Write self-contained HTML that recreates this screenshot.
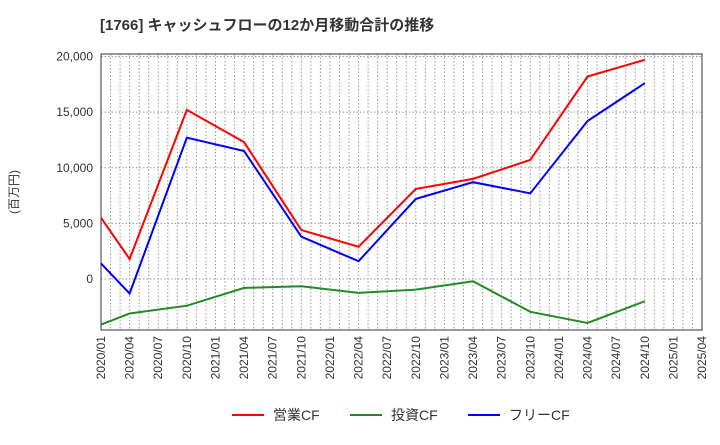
<!DOCTYPE html>
<html><head><meta charset="utf-8"><style>
body{margin:0;background:#fff;font-family:"Liberation Sans","Noto Sans CJK JP",sans-serif;}
</style></head><body>
<svg id="c" width="720" height="440" xmlns="http://www.w3.org/2000/svg" font-family="Liberation Sans, Noto Sans CJK JP, sans-serif">
<text x="100" y="30" font-size="15" font-weight="bold" fill="#333">[1766]  キャッシュフローの12か月移動合計の推移</text>
<text x="18" y="192" font-size="12" fill="#333" transform="rotate(-90 18 192)" text-anchor="middle">(百万円)</text>
<g id="grid"></g><g id="axes"></g><g id="series"></g>
<g>
<g><line x1="232" y1="415" x2="264" y2="415" stroke="#f00" stroke-width="2"/><text x="273" y="420" font-size="14" fill="#333">営業CF</text></g>
<g><line x1="350" y1="415" x2="382" y2="415" stroke="#228b22" stroke-width="2"/><text x="391" y="420" font-size="14" fill="#333">投資CF</text></g>
<g><line x1="468" y1="415" x2="500" y2="415" stroke="#00f" stroke-width="2"/><text x="509" y="420" font-size="14" fill="#333">フリーCF</text></g>
</g>
</svg>
<script>
const tickLabels=["2020/01","2020/04","2020/07","2020/10","2021/01","2021/04","2021/07","2021/10","2022/01","2022/04","2022/07","2022/10","2023/01","2023/04","2023/07","2023/10","2024/01","2024/04","2024/07","2024/10","2025/01","2025/04"];
const yTicks=[0,5000,10000,15000,20000];
const pointQuarters=[0,1,3,5,7,9,11,13,15,17,19];
const operatingCF=[5500,1800,15200,12300,4400,2900,8100,9000,10700,18200,19700];
const investingCF=[-4100,-3100,-2400,-800,-650,-1250,-950,-200,-2950,-3950,-2000];
const freeCF=[1400,-1300,12700,11500,3800,1600,7200,8700,7700,14200,17600];
const L=101,R=702,T=54,B=330;
const x=q=>L+(R-L)*q/21;
const y=v=>279-v*(279-56.5)/20000;
const NS="http://www.w3.org/2000/svg";
function mk(t,a,p){const e=document.createElementNS(NS,t);for(const k in a)e.setAttribute(k,a[k]);p.appendChild(e);return e;}
const g=document.getElementById('grid'),ax=document.getElementById('axes'),s=document.getElementById('series');
for(let m=1;m<63;m++){const xx=L+(R-L)*m/63;
const l=mk('line',{x1:xx,x2:xx,y1:T,y2:B,stroke:'#999','stroke-dasharray':'1.5,2','stroke-width':1},g);

}
yTicks.forEach(v=>{const l=mk('line',{x1:L,x2:R,y1:y(v),y2:y(v),stroke:'#999','stroke-dasharray':'1.5,2'},g);


const t=mk('text',{x:L-8,y:y(v)+4,'font-size':12,'text-anchor':'end',fill:'#333'},ax);t.textContent=v.toLocaleString('en-US');

});
const fr=mk('rect',{x:L,y:T,width:R-L,height:B-T,fill:'none',stroke:'#333'},ax);


tickLabels.forEach((lab,i)=>{const xx=x(i);const t=mk('text',{x:xx+4,y:B+6,'font-size':12,'text-anchor':'end',fill:'#333',transform:`rotate(-90 ${xx+4} ${B+6})`},ax);t.textContent=lab;

});
[[operatingCF,'#f00','operating-cf-line'],[investingCF,'#228b22','investing-cf-line'],[freeCF,'#00f','free-cf-line']].forEach(([d,c,n])=>{
const p=mk('polyline',{points:d.map((v,i)=>x(pointQuarters[i])+','+y(v)).join(' '),fill:'none',stroke:c,'stroke-width':2},s);

});
</script>
</body></html>
